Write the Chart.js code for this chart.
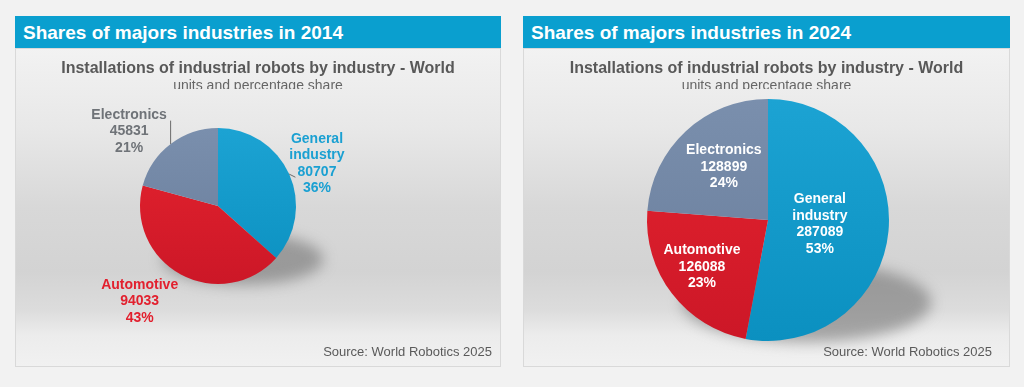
<!DOCTYPE html>
<html>
<head>
<meta charset="utf-8">
<script src="https://cdn.jsdelivr.net/npm/chart.js@4.4.1/dist/chart.umd.min.js"></script>
<style>
  body {
    margin: 0;
    width: 1024px;
    height: 387px;
    background: #f2f2f2;
    position: relative;
    overflow: hidden;
    font-family: "Liberation Sans", Arial, sans-serif;
  }
  .panel {
    position: absolute;
    top: 16px;
    height: 351px;
  }
  .head {
    height: 32px;
    background: #0a9fcf;
    color: #fff;
    font-weight: bold;
    font-size: 19px;
    line-height: 34px;
    padding-left: 8px;
  }
  .body {
    position: absolute;
    top: 32px;
    left: 0;
    right: 0;
    bottom: 0;
    box-shadow: inset 0 0 0 1px #d9d9d9;
    background: linear-gradient(#f2f2f2 0%, #e8e8e8 25%, #d8d8d8 50%, #d3d3d3 70%, #dcdcdc 82%, #ececec 90%, #f1f1f1 100%);
  }
  .title {
    position: absolute;
    top: 11px;
    left: 0;
    right: 0;
    text-align: center;
    color: #585858;
    font-weight: bold;
    font-size: 16px;
    line-height: 18px;
  }
  .sub {
    position: absolute;
    top: 29px;
    left: 0;
    right: 0;
    height: 12px;
    overflow: hidden;
    text-align: center;
    color: #666;
    font-size: 14px;
    line-height: 16px;
  }
  .source {
    position: absolute;
    top: 296px;
    color: #5a5a5a;
    font-size: 13px;
    line-height: 16px;
  }
  .chart {
    position: absolute;
    left: 0;
    top: 0;
    right: 0;
    bottom: 0;
  }
</style>
</head>
<body>

<div class="panel" style="left:15px;width:486px">
  <div class="head">Shares of majors industries in 2014</div>
  <div class="body">
    <div class="chart"><canvas id="pie2014"></canvas></div>
    <div class="title">Installations of industrial robots by industry - World</div>
    <div class="sub">units and percentage share</div>
    <div class="source" style="right:9px">Source: World Robotics 2025</div>
  </div>
</div>

<div class="panel" style="left:523px;width:487px">
  <div class="head">Shares of majors industries in 2024</div>
  <div class="body">
    <div class="chart"><canvas id="pie2024"></canvas></div>
    <div class="title">Installations of industrial robots by industry - World</div>
    <div class="sub">units and percentage share</div>
    <div class="source" style="right:18px">Source: World Robotics 2025</div>
  </div>
</div>

<script>
// data
const categories = ['General industry', 'Automotive', 'Electronics'];
const units2014 = [80707, 94033, 45831];
const shares2014 = [36, 43, 21];
const units2024 = [287089, 126088, 128899];
const shares2024 = [53, 23, 24];

// slice colours (top / bottom of the gradient)
const sliceTop = ['#1ca3d3', '#e6242f', '#7a8fad'];
const sliceBottom = ['#0b90c0', '#cc1727', '#687c9a'];
const labelColors2014 = ['#1aa0d2', '#e2202e', '#6f7378'];

function sliceColor(ctx) {
  const chart = ctx.chart;
  const area = chart.chartArea;
  const i = ctx.dataIndex;
  if (!area) return sliceTop[i];
  const g = chart.ctx.createLinearGradient(0, area.top, 0, area.bottom);
  g.addColorStop(0, sliceTop[i]);
  g.addColorStop(1, sliceBottom[i]);
  return g;
}

// soft floor shadow under the pie
const shadowPlugin = {
  id: 'floorShadow',
  beforeDatasetsDraw(chart) {
    const arc = chart.getDatasetMeta(0).data[0];
    if (!arc) return;
    const r = arc.outerRadius;
    const c = chart.ctx;
    c.save();
    c.filter = 'blur(7px)';
    c.fillStyle = 'rgba(105,105,105,0.55)';
    c.beginPath();
    c.ellipse(arc.x + 0.32 * r, arc.y + 0.68 * r, 1.03 * r, 0.33 * r, 0, 0, Math.PI * 2);
    c.fill();
    c.restore();
  }
};

// slice labels: name / units / share
const labelPlugin = {
  id: 'sliceLabels',
  afterDatasetsDraw(chart, args, opts) {
    const c = chart.ctx;
    const meta = chart.getDatasetMeta(0);
    const units = chart.data.datasets[0].data;
    meta.data.forEach((arc, i) => {
      const p = opts.place[i];
      const mid = (arc.startAngle + arc.endAngle) / 2;
      const a = mid + p.da * Math.PI / 180;
      const r = arc.outerRadius;
      const x = arc.x + Math.cos(a) * r * p.r;
      const y = arc.y + Math.sin(a) * r * p.r;
      const lines = categories[i] === 'General industry' ? ['General', 'industry'] : [categories[i]];
      lines.push(String(units[i]), opts.shares[i] + '%');
      c.save();
      c.font = 'bold 14px "Liberation Sans", Arial, sans-serif';
      c.textAlign = 'center';
      c.textBaseline = 'middle';
      c.fillStyle = opts.colors[i];
      const lh = 16.5;
      const y0 = y - (lines.length - 1) * lh / 2;
      lines.forEach((t, k) => c.fillText(t, x, y0 + k * lh));
      // leader line
      if (p.lead) {
        const ex = arc.x + Math.cos(mid) * r;
        const ey = arc.y + Math.sin(mid) * r;
        c.strokeStyle = '#6a6a6a';
        c.lineWidth = 1;
        c.beginPath();
        c.moveTo(ex, ey);
        c.lineTo(ex + p.lead[0] * r, ey + p.lead[1] * r);
        c.stroke();
      }
      c.restore();
    });
  }
};

function makePie(id, units, shares, padding, place, colors) {
  return new Chart(document.getElementById(id), {
    type: 'pie',
    data: {
      labels: categories,
      datasets: [{
        data: units,
        backgroundColor: sliceColor,
        borderWidth: 0
      }]
    },
    options: {
      responsive: true,
      maintainAspectRatio: false,
      animation: false,
      layout: { padding: padding },
      plugins: {
        legend: { display: false },
        tooltip: { enabled: false },
        sliceLabels: { place: place, shares: shares, colors: colors }
      }
    },
    plugins: [shadowPlugin, labelPlugin]
  });
}

makePie('pie2014', units2014, shares2014,
  { left: 125, right: 205, top: 80, bottom: 83 },
  [
    { r: 1.38, da: 1, lead: [0.08, 0.04] },
    { r: 1.58, da: 11 },
    { r: 1.49, da: -12.5, lead: [0, -0.3] }
  ],
  labelColors2014);

makePie('pie2024', units2024, shares2024,
  { left: 124, right: 121, top: 51, bottom: 26 },
  [
    { r: 0.43, da: -1 },
    { r: 0.67, da: 2 },
    { r: 0.57, da: 3 }
  ],
  ['#ffffff', '#ffffff', '#ffffff']);
</script>
</body>
</html>
